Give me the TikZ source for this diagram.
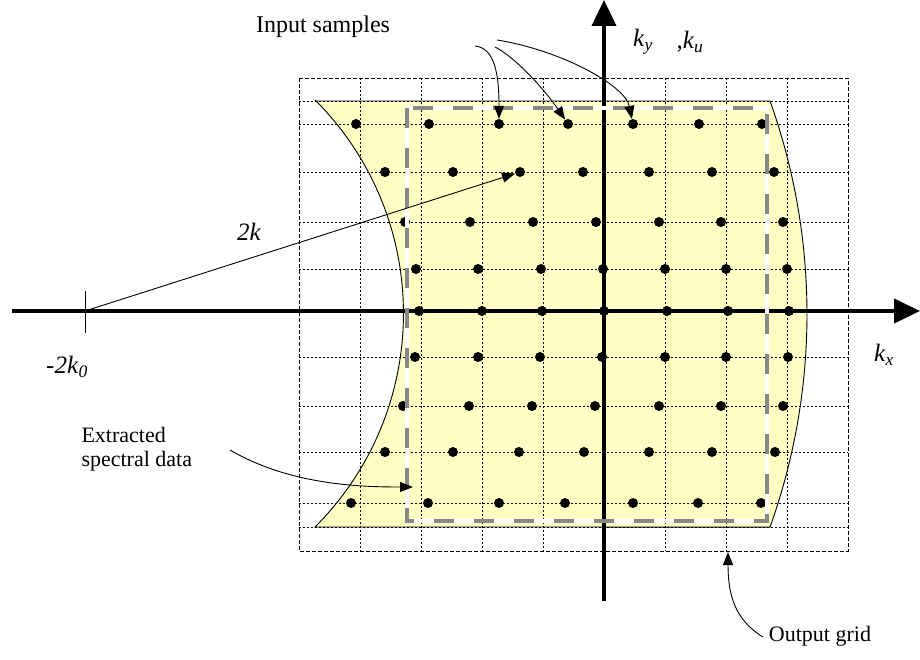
\documentclass[tikz,border=0pt]{standalone}
\usepackage{fontspec}
\setmainfont{Liberation Serif}
\usetikzlibrary{arrows.meta}
\definecolor{fillyel}{RGB}{255,255,196}
\definecolor{dashgray}{RGB}{136,136,136}
\newcommand{\kvar}[2]{\textit{#1}\textsubscript{\textit{#2}}}

\begin{document}
\begin{tikzpicture}[x=1pt,y=-1pt,>={Triangle[length=13pt,width=10pt]},
    font=\fontsize{22}{24}\selectfont]
    \tikzstyle{dot}=[circle,fill=black,inner sep=0pt,minimum size=10pt]
    \tikzstyle{gridline}=[line width=0.9pt,dash pattern=on 2pt off 2pt]
    \tikzstyle{axis}=[line width=4pt,-{Triangle[length=26pt,width=24pt]}]
    \tikzstyle{mathlbl}=[font=\fontsize{25}{28}\selectfont]
    \useasboundingbox (0,0) rectangle (920,660);

    \filldraw[fill=fillyel,draw=black,line width=0.9pt]
      (316,101) -- (770,101) arc[start angle=-19.7,end angle=19.7,radius=632]
      -- (315,527) arc[start angle=45,end angle=-45,radius=302] -- cycle;

    \foreach \xx in {360,421,482,543,665,726,787}
      \draw[gridline] (\xx,78) -- (\xx,551);
    \foreach \yy in {101,124,172,222,269,357,406,452,503,527}
      \draw[gridline] (299,\yy) -- (848,\yy);
    \draw[line width=0.9pt,dash pattern=on 4pt off 2pt] (299,78) rectangle (848,551);

    \coordinate (xl) at (12,311);
    \coordinate (xr) at (920,311);
    \coordinate (yb) at (604,601);
    \coordinate (yt) at (604,0);
    \draw[axis] (xl) -- (xr);
    \draw[axis] (yb) -- (yt);

    \foreach \yy/\xs [count=\r] in {
        124/{356,429,499,568,633,699,762},
        172/{385,453,520,583,649,712,774},
        222/{405,470,533,596,659,721,783},
        269/{416,478,541,603,665,726,787},
        311/{419,482,542,604,667,728,789},
        357/{415,478,540,602,665,726,788},
        406/{403,469,532,595,659,721,783},
        452/{385,453,519,584,649,712,775},
        503/{351,428,499,565,633,698,761}}
      \foreach \xx [count=\c] in \xs
        \node[dot] (d\r-\c) at (\xx,\yy) {};

    \draw[white,line width=4pt] (407,108) rectangle (767,521);
    \draw[dashgray,line width=4pt,dash pattern=on 20pt off 20pt] (407,108) rectangle (767,521);

    \coordinate (k0) at (85,311);
    \draw[line width=0.9pt] (85,291) -- (85,333);
    \draw[->,line width=0.9pt] (k0) -- (d2-3);

    \node (in) [font=\fontsize{24}{26}\selectfont] at (323,27) {Input samples};
    \node (ky) [mathlbl] at (643,42) {\kvar{k}{y}};
    \node (ku) [mathlbl] at (690,42) {,\kvar{k}{u}};
    \node (kx) [mathlbl] at (884,355) {\kvar{k}{x}};
    \node (twok) [mathlbl] at (249,232) {\textit{2k}};
    \node (mk0) [mathlbl] at (67,367) {\textit{-2}\kvar{k}{0}};
    \node (ex) [align=left,anchor=west] at (78,449) {Extracted\\spectral data};
    \node (og) at (820,636) {Output grid};

    \coordinate (i1) at (475,46);
    \coordinate (i2) at (495,47);
    \coordinate (i3) at (497,40);
    \coordinate (e1) at (230,450);
    \coordinate (e2) at (413,487);
    \coordinate (o1) at (763,637);
    \coordinate (o2) at (728,552);
    \draw[->,line width=0.9pt] (i1) .. controls (495,48) and (499,75) .. (d1-3);
    \draw[->,line width=0.9pt] (i2) .. controls (515,57) and (545,90) .. (d1-4);
    \draw[->,line width=0.9pt] (i3) .. controls (560,50) and (625,85) .. (d1-5);
    \draw[->,line width=0.9pt] (e1) .. controls (290,485) and (360,487) .. (e2);
    \draw[->,line width=0.9pt] (o1) .. controls (735,620) and (728,595) .. (o2);
  \end{tikzpicture}
\end{document}
